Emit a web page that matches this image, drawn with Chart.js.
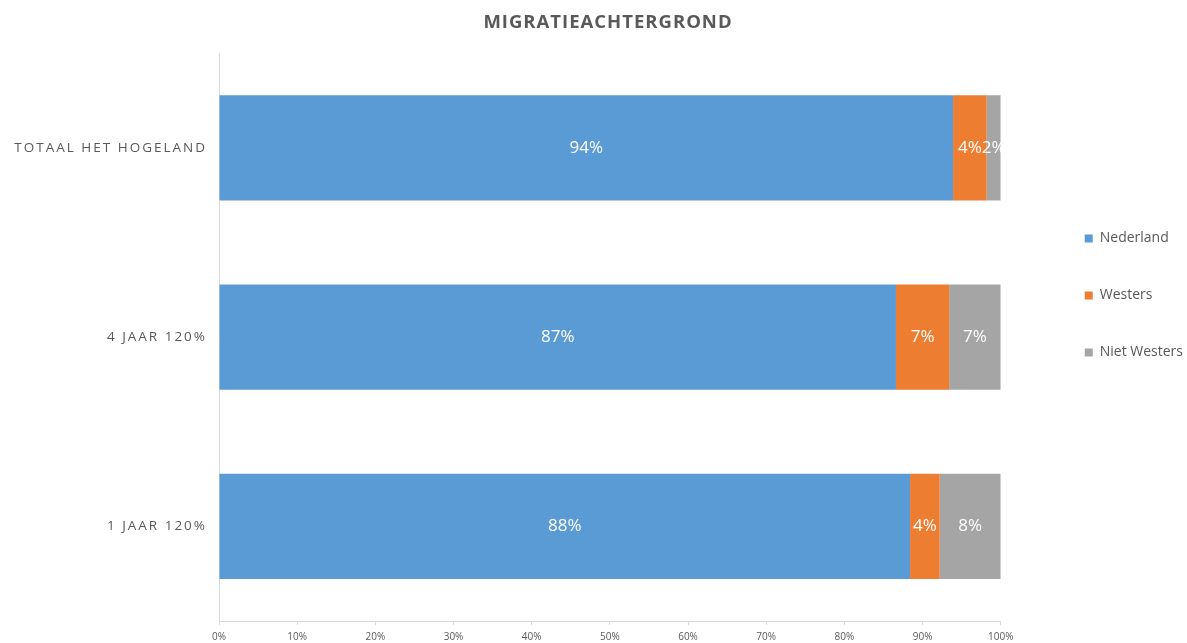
<!DOCTYPE html>
<html lang="nl">
<head>
<meta charset="utf-8">
<title>Migratieachtergrond</title>
<script src="https://cdn.jsdelivr.net/npm/chart.js@4.4.1/dist/chart.umd.min.js"></script>
<style>
    html, body { margin: 0; padding: 0; background: #ffffff; }
    #wrap { width: 1187px; height: 643px; position: relative; }
</style>
</head>
<body>
<div id="wrap"><canvas id="migratieChart"></canvas></div>
<script>
const categories = ["TOTAAL HET HOGELAND", "4 JAAR 120%", "1 JAAR 120%"];
const nederland = [93.9, 86.6, 88.4];
const westers = [4.3, 6.8, 3.8];
const nietWesters = [1.8, 6.6, 7.8];
const xTicks = [0, 10, 20, 30, 40, 50, 60, 70, 80, 90, 100];

const FONT = "'Open Sans', 'DejaVu Sans', sans-serif";
const TEXT_GREY = "#595959";
const AXIS_GREY = "#d9d9d9";

// waarde-labels midden in elk segment
const segmentLabels = {
    id: "segmentLabels",
    afterDatasetsDraw(chart) {
        const ctx = chart.ctx;
        ctx.save();
        ctx.font = "17px " + FONT;
        ctx.fillStyle = "#ffffff";
        ctx.textAlign = "center";
        ctx.textBaseline = "middle";
        chart.data.datasets.forEach((ds, i) => {
            chart.getDatasetMeta(i).data.forEach((bar, j) => {
                const p = bar.getCenterPoint();
                ctx.fillText(Math.round(ds.data[j]) + "%", p.x, p.y);
            });
        });
        ctx.restore();
    },
};

// letterafstand voor titel en categorie-labels, titel en legenda wat verschuiven
const spacing = {
    id: "spacing",
    afterLayout(chart) {
        const y = chart.scales.y;
        if (!y._spaced) {
            const orig = y.drawLabels;
            y.drawLabels = function (area) {
                this.ctx.save();
                this.ctx.letterSpacing = "2px";
                orig.call(this, area);
                this.ctx.restore();
            };
            y._spaced = true;
        }
        const t = chart.titleBlock;
        if (t && !t._spaced) {
            const origT = t.draw;
            t.draw = function () {
                this.ctx.save();
                this.ctx.letterSpacing = "1px";
                origT.call(this);
                this.ctx.restore();
            };
            t._spaced = true;
        }
        t.left += 32;
        t.right += 32;
        const lg = chart.legend;
        lg.left += 41;
        lg.right += 41;
        lg.top -= 26;
        lg.bottom -= 26;
    },
};

const chart = new Chart(document.getElementById("migratieChart"), {
    type: "bar",
    data: {
        labels: categories,
        datasets: [
            { label: "Nederland", data: nederland, backgroundColor: "#5b9bd5" },
            { label: "Westers", data: westers, backgroundColor: "#ed7d31" },
            { label: "Niet Westers", data: nietWesters, backgroundColor: "#a5a5a5" },
        ],
    },
    options: {
        indexAxis: "y",
        responsive: true,
        maintainAspectRatio: false,
        animation: false,
        categoryPercentage: 1,
        barPercentage: 0.556,
        layout: { padding: { left: 0, right: 35, top: 0, bottom: 0 } },
        scales: {
            x: {
                stacked: true,
                min: 0,
                max: 100,
                afterBuildTicks: (scale) => {
                    scale.ticks = xTicks.map((v) => ({ value: v }));
                },
                afterFit: (scale) => {
                    scale.height = 22;
                },
                ticks: {
                    callback: (v) => v + "%",
                    color: TEXT_GREY,
                    font: { family: FONT, size: 10 },
                    padding: 6,
                    maxRotation: 0,
                },
                grid: {
                    display: true,
                    drawOnChartArea: false,
                    drawTicks: true,
                    tickLength: 4,
                    color: AXIS_GREY,
                },
                border: { display: true, color: AXIS_GREY },
            },
            y: {
                stacked: true,
                afterFit: (scale) => {
                    scale.width = 219;
                },
                ticks: {
                    color: TEXT_GREY,
                    font: { family: FONT, size: 13.5 },
                    padding: 12,
                },
                grid: { display: false, drawTicks: false },
                border: { display: true, color: AXIS_GREY },
            },
        },
        plugins: {
            title: {
                display: true,
                text: "MIGRATIEACHTERGROND",
                color: TEXT_GREY,
                font: { family: FONT, size: 18.5, weight: "bold" },
                padding: { top: 12, bottom: 19 },
            },
            legend: {
                position: "right",
                align: "center",
                labels: {
                    color: TEXT_GREY,
                    font: { family: FONT, size: 14 },
                    boxWidth: 8,
                    boxHeight: 8,
                    padding: 43,
                },
            },
            tooltip: { enabled: false },
        },
    },
    plugins: [segmentLabels, spacing],
});
</script>
</body>
</html>
